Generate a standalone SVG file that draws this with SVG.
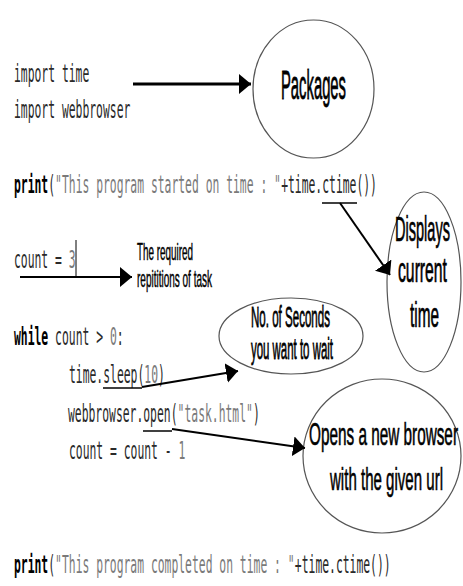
<svg xmlns="http://www.w3.org/2000/svg" width="463" height="586" viewBox="0 0 463 586">
<style>
.code{font-family:"DejaVu Sans Mono","Liberation Mono",monospace;font-size:11.38px;fill:#2a2a2a}
.kw{font-weight:bold;fill:#000}
.str{fill:#7a7a7a}
.lbl{font-family:"Liberation Sans",Arial,sans-serif;fill:#000;stroke:#000;stroke-width:0.3}
.shape{fill:none;stroke:#555;stroke-width:1.2}
.conn{fill:none;stroke:#000;stroke-width:2}
.ul{fill:none;stroke:#000;stroke-width:1.5}
</style>
<defs>
<marker id="ah" markerUnits="userSpaceOnUse" viewBox="0 0 12 20" refX="12" refY="10" markerWidth="12" markerHeight="20" orient="auto">
<path d="M0,0 L12,10 L0,20 z" fill="#000"/>
</marker>
</defs>
<rect width="463" height="586" fill="#fff"/>

<g id="code">
<text class="code" transform="translate(14,82) scale(1,2.11)">import time</text>
<text class="code" transform="translate(14,118) scale(1,2.11)">import webbrowser</text>

<text class="code kw" transform="translate(14,193) scale(1,2.11)">print</text>
<text class="code" transform="translate(48.25,193) scale(1,2.11)">(</text>
<text class="code str" transform="translate(55.1,193) scale(1,2.11)">"This program started on time : "</text>
<text class="code" transform="translate(281.15,193) scale(1,2.11)">+time.ctime())</text>

<text class="code" transform="translate(14,268) scale(1,2.11)">count =</text>
<text class="code str" transform="translate(68.8,268) scale(1,2.11)">3</text>

<text class="code kw" transform="translate(14,345) scale(1,2.11)">while</text>
<text class="code" transform="translate(55.1,345) scale(1,2.11)">count &gt;</text>
<text class="code str" transform="translate(109.9,345) scale(1,2.11)">0</text>
<text class="code" transform="translate(116.75,345) scale(1,2.11)">:</text>

<text class="code" transform="translate(69,383) scale(1,2.11)">time.sleep(</text>
<text class="code str" transform="translate(144.35,383) scale(1,2.11)">10</text>
<text class="code" transform="translate(158.05,383) scale(1,2.11)">)</text>

<text class="code" transform="translate(68,422) scale(1,2.11)">webbrowser.open(</text>
<text class="code str" transform="translate(177.6,422) scale(1,2.11)">"task.html"</text>
<text class="code" transform="translate(252.95,422) scale(1,2.11)">)</text>

<text class="code" transform="translate(69,459) scale(1,2.11)">count = count -</text>
<text class="code str" transform="translate(178.6,459) scale(1,2.11)">1</text>

<text class="code kw" transform="translate(14,573) scale(1,2.11)">print</text>
<text class="code" transform="translate(48.25,573) scale(1,2.11)">(</text>
<text class="code str" transform="translate(55.1,573) scale(1,2.11)">"This program completed on time : "</text>
<text class="code" transform="translate(294.85,573) scale(1,2.11)">+time.ctime())</text>
</g>

<g id="packages">
<ellipse class="shape" cx="313.5" cy="89" rx="60.5" ry="69"/>
<text class="lbl" transform="translate(281,99) scale(1,2.73)" font-size="15" textLength="65" lengthAdjust="spacingAndGlyphs">Packages</text>
</g>

<g id="displays">
<ellipse class="shape" cx="424" cy="282" rx="37" ry="90"/>
<text class="lbl" transform="translate(395,241) scale(1,2.4)" font-size="15" textLength="55" lengthAdjust="spacingAndGlyphs">Displays</text>
<text class="lbl" transform="translate(398,282) scale(1,2.4)" font-size="15" textLength="49" lengthAdjust="spacingAndGlyphs">current</text>
<text class="lbl" transform="translate(410,327) scale(1,2.4)" font-size="15" textLength="29" lengthAdjust="spacingAndGlyphs">time</text>
</g>

<g id="required">
<text class="lbl" transform="translate(137,260) scale(1,2.45)" font-size="9.8" textLength="56" lengthAdjust="spacingAndGlyphs" style="stroke-width:0.2">The required</text>
<text class="lbl" transform="translate(137,287) scale(1,2.45)" font-size="9.8" textLength="75" lengthAdjust="spacingAndGlyphs" style="stroke-width:0.2">repititions of task</text>
</g>

<g id="seconds">
<ellipse class="shape" cx="291" cy="336" rx="72" ry="38"/>
<text class="lbl" transform="translate(251,327) scale(1,2.57)" font-size="11.3" textLength="79" lengthAdjust="spacingAndGlyphs">No. of Seconds</text>
<text class="lbl" transform="translate(251,359) scale(1,2.57)" font-size="11.3" textLength="82" lengthAdjust="spacingAndGlyphs">you want to wait</text>
</g>

<g id="browser">
<ellipse class="shape" cx="382" cy="456" rx="79" ry="77"/>
<text class="lbl" transform="translate(309,445) scale(1,2.13)" font-size="15" textLength="149" lengthAdjust="spacingAndGlyphs">Opens a new browser</text>
<text class="lbl" transform="translate(330,490) scale(1,2.13)" font-size="15" textLength="113" lengthAdjust="spacingAndGlyphs">with the given url</text>
</g>

<g id="connectors">
<path class="conn" style="stroke-width:3" d="M133,84 L251,84" marker-end="url(#ah)"/>
<path class="ul" d="M322,203 L357,203"/>
<path class="conn" d="M340,203 L390,275" marker-end="url(#ah)"/>
<path class="ul" style="stroke-width:1" d="M76,240 L76,277"/>
<path class="conn" d="M20,277 L132,277" marker-end="url(#ah)"/>
<path class="ul" d="M103,388 L142,388"/>
<path class="conn" d="M142,387 L238,371" marker-end="url(#ah)"/>
<path class="ul" d="M143,431 L172,431"/>
<path class="conn" d="M172,429 L305,448" marker-end="url(#ah)"/>
</g>
</svg>
